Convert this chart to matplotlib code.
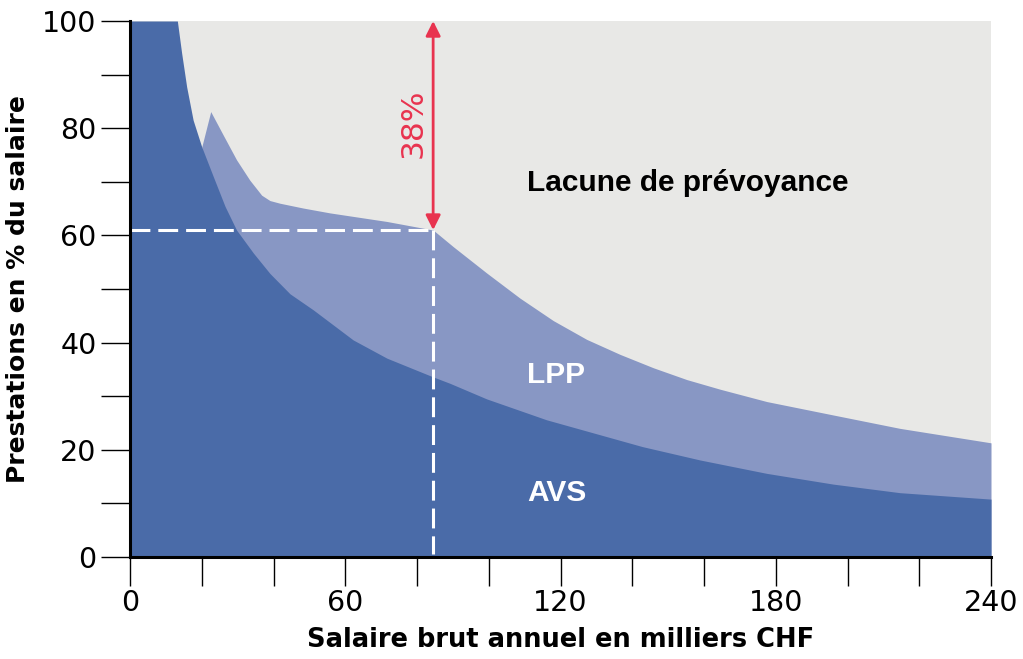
import matplotlib
matplotlib.use("Agg")
import matplotlib.pyplot as plt
from matplotlib.ticker import MultipleLocator, NullFormatter

# salary in thousands CHF, benefits in % of salary
avs_x = [0, 13.2, 14.4, 15.8, 17.6, 20.0, 23.2, 26.5, 29.7, 34.4, 39.0, 44.6,
         51.1, 62.2, 71.6, 80.8, 84.5, 89.2, 99.4, 116.1, 142.8, 158.9, 177.5,
         196.0, 214.6, 240]
avs_y = [100, 100, 94.0, 87.7, 81.5, 76.5, 71.0, 65.4, 61.0, 56.7, 52.9, 49.1,
         46.1, 40.5, 37.1, 34.6, 33.6, 32.4, 29.5, 25.6, 20.6, 18.1, 15.6,
         13.6, 12.0, 10.8]

# AVS + LPP together
total_x = [20.0, 22.5, 26.0, 29.7, 33.4, 36.7, 39.0, 41.8, 48.3, 55.7, 71.6,
           84.5, 90.1, 99.4, 108.7, 118.0, 127.3, 136.6, 145.9, 155.2, 164.5,
           177.5, 196.0, 214.6, 240]
total_y = [76.5, 83.1, 78.7, 74.1, 70.3, 67.5, 66.5, 66.0, 65.1, 64.2, 62.6,
           61.0, 57.9, 53.0, 48.3, 44.1, 40.6, 37.8, 35.3, 33.1, 31.3,
           29.0, 26.5, 24.0, 21.3]

ref_salary = 84.5
ref_level = 61.0
gap_label = "38%"

C_AVS = "#4a6ba8"
C_LPP = "#8897c4"
C_GAP = "#e8e8e6"
C_RED = "#e8334f"

fig = plt.figure(figsize=(10.23, 6.59), dpi=100)
ax = fig.add_axes([130 / 1023, 102 / 659, 861 / 1023, 536 / 659])
ax.set_facecolor(C_GAP)

ax.fill_between(total_x, 0, total_y, color=C_LPP, lw=0, zorder=1)
ax.fill_between(avs_x, 0, avs_y, color=C_AVS, lw=0, zorder=2)

# reference salary guides
ax.plot([0, ref_salary], [ref_level, ref_level], color="white", lw=2.2,
        dashes=(6.5, 2.6), zorder=3, clip_on=False)
ax.plot([ref_salary, ref_salary], [ref_level, 0.6], color="white", lw=2.2,
        dashes=(6.5, 2.6), zorder=3)

ax.annotate("", xy=(ref_salary, 100), xytext=(ref_salary, ref_level),
            arrowprops=dict(arrowstyle="<|-|>", color=C_RED, lw=2,
                            mutation_scale=22, shrinkA=0, shrinkB=0),
            zorder=4)
ax.text(ref_salary - 5.5, (100 + ref_level) / 2 + 0.5, gap_label, rotation=90,
        color=C_RED, fontsize=22.5, ha="center", va="center", family="DejaVu Sans")

lab = dict(family="Liberation Sans", fontweight="bold", fontsize=21.5,
           ha="left", va="center")
ax.text(110.7, 69.8, "Lacune de prévoyance", color="black", **lab)
ax.text(110.7, 34.0, "LPP", color="white", **lab)
ax.text(110.7, 11.9, "AVS", color="white", **lab)

ax.set_xlim(0, 240)
ax.set_ylim(0, 100)
ax.xaxis.set_major_locator(MultipleLocator(60))
ax.xaxis.set_minor_locator(MultipleLocator(20))
ax.yaxis.set_major_locator(MultipleLocator(20))
ax.yaxis.set_minor_locator(MultipleLocator(10))
ax.xaxis.set_minor_formatter(NullFormatter())
ax.yaxis.set_minor_formatter(NullFormatter())
ax.tick_params(which="both", direction="out", length=21, width=1, color="black")
ax.tick_params(axis="x", pad=2, labelsize=20.5)
ax.tick_params(axis="y", pad=3, labelsize=20.5)
for t in ax.get_xticklabels() + ax.get_yticklabels():
    t.set_family("DejaVu Sans")

for s in ("top", "right"):
    ax.spines[s].set_visible(False)
for s in ("left", "bottom"):
    ax.spines[s].set_linewidth(2.2)
    ax.spines[s].set_zorder(5)

axlab = dict(family="DejaVu Sans", fontweight="bold")
ax.set_xlabel("Salaire brut annuel en milliers CHF", labelpad=7, fontsize=18.5, **axlab)
ax.set_ylabel("Prestations en % du salaire", labelpad=9, fontsize=18, **axlab)

fig.savefig("out.png", dpi=100)
